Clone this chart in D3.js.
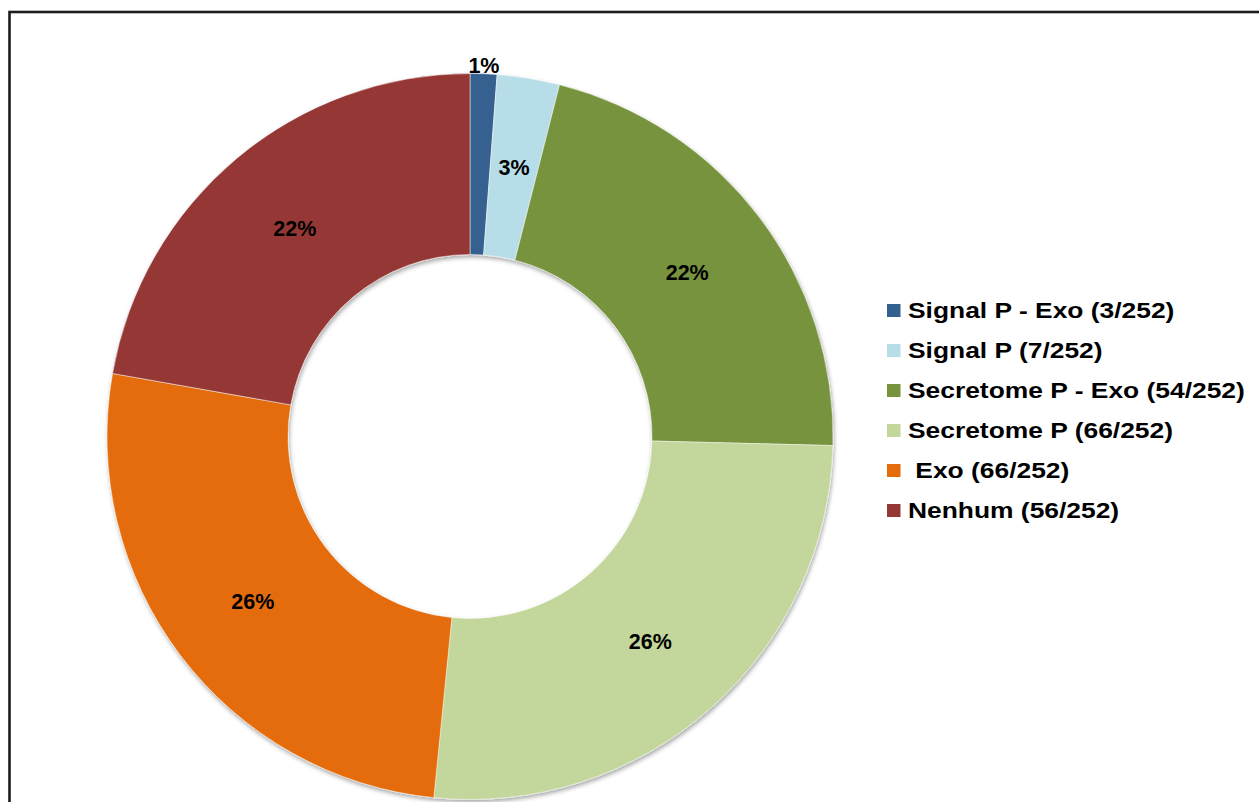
<!DOCTYPE html>
<html>
<head>
<meta charset="utf-8">
<script src="https://cdn.jsdelivr.net/npm/d3@7/dist/d3.min.js"></script>
<style>
  html, body { margin: 0; padding: 0; background: #fff; }
  svg { display: block; }
  text { font-family: "Liberation Sans", Arial, sans-serif; font-weight: bold; }
</style>
</head>
<body>
<svg id="chart" width="1259" height="802"></svg>
<script>
// Protein classification of 252 entries
const categories = ["Signal P - Exo", "Signal P", "Secretome P - Exo", "Secretome P", " Exo", "Nenhum"];
const counts = [3, 7, 54, 66, 66, 56];
const total = 252;
const colors = ["#34608f", "#b7dee8", "#77933c", "#c3d69b", "#e46c0a", "#953735"];

// whole-number percentages that add up to 100 (largest remainder)
function percentLabels(values, sum) {
  const raw = values.map(v => v / sum * 100);
  const out = raw.map(Math.floor);
  let left = 100 - d3.sum(out);
  const order = d3.range(raw.length).sort((a, b) => (raw[b] - out[b]) - (raw[a] - out[a]));
  for (let k = 0; k < left; k++) out[order[k]] += 1;
  return out;
}
const pcts = percentLabels(counts, total);

const svg = d3.select("#chart");
const W = 1259, H = 802;

// chart frame
svg.append("rect")
  .attr("x", 9.5).attr("y", 12)
  .attr("width", W + 20).attr("height", H + 20)
  .attr("fill", "#fff")
  .attr("stroke", "#1c1c1c")
  .attr("stroke-width", 2.6);

const defs = svg.append("defs");
const f = defs.append("filter").attr("id", "shadow")
  .attr("x", "-10%").attr("y", "-10%").attr("width", "120%").attr("height", "120%");
f.append("feDropShadow")
  .attr("dx", 1).attr("dy", 2.5)
  .attr("stdDeviation", 2)
  .attr("flood-color", "#000")
  .attr("flood-opacity", 0.35);

const cx = 470, cy = 436.5;
const outerR = 363, innerR = 182;

const pie = d3.pie().sort(null).value(d => d)(counts);
const arc = d3.arc().innerRadius(innerR).outerRadius(outerR);
const labelArc = d3.arc().innerRadius((innerR + outerR) / 2).outerRadius((innerR + outerR) / 2);
const outerLabelArc = d3.arc().innerRadius(outerR + 9).outerRadius(outerR + 9);

const g = svg.append("g").attr("transform", `translate(${cx},${cy})`);

g.append("g").attr("filter", "url(#shadow)")
  .selectAll("path")
  .data(pie)
  .join("path")
  .attr("d", arc)
  .attr("fill", (d, i) => colors[i])
  .attr("stroke", "#ffffff")
  .attr("stroke-opacity", 0.6)
  .attr("stroke-width", 0.8);

// percentage labels; very thin slices get their label outside the ring
g.selectAll("text.pct")
  .data(pie)
  .join("text")
  .attr("class", "pct")
  .attr("transform", d => {
    const share = d.value / total;
    const p = share < 0.02 ? outerLabelArc.centroid(d) : labelArc.centroid(d);
    return `translate(${p[0]},${p[1]})`;
  })
  .attr("text-anchor", "middle")
  .attr("dy", "0.36em")
  .attr("font-size", 21.5)
  .attr("fill", "#000")
  .text((d, i) => pcts[i] + "%");

// legend
const legendY = d3.scaleBand()
  .domain(d3.range(categories.length))
  .range([290.5, 530.5]);

const lg = svg.append("g");
const rows = lg.selectAll("g")
  .data(categories)
  .join("g")
  .attr("transform", (d, i) => `translate(887,${legendY(i) + legendY.bandwidth() / 2})`);

rows.append("rect")
  .attr("x", 0).attr("y", -6.5)
  .attr("width", 13.5).attr("height", 13)
  .attr("fill", (d, i) => colors[i]);

rows.append("text")
  .attr("transform", "translate(21,0) scale(1.2,1)")
  .attr("dy", "0.36em")
  .attr("font-size", 22)
  .attr("fill", "#000")
  .style("white-space", "pre")
  .text((d, i) => `${d} (${counts[i]}/${total})`);
</script>
</body>
</html>
